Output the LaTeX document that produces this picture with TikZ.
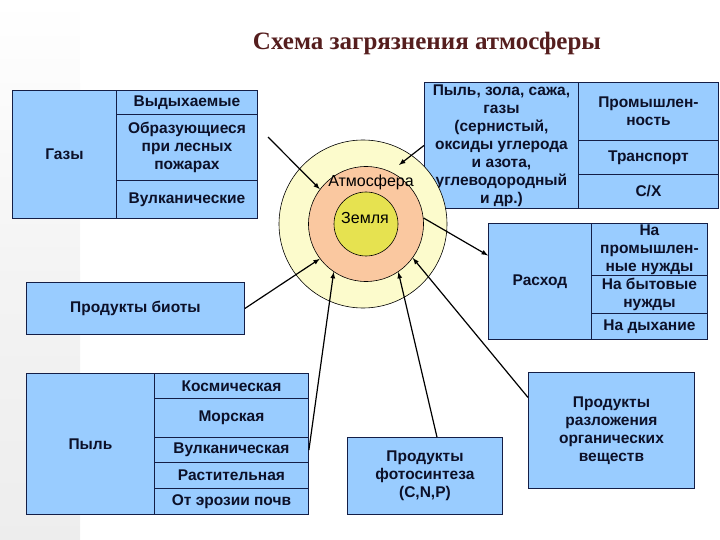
\documentclass[tikz,border=0pt]{standalone}
\usepackage{fontspec}
\setmainfont{Liberation Sans}
\newfontfamily\titlefont{Liberation Serif}
\usetikzlibrary{arrows}

\definecolor{cellblue}{RGB}{153,204,255}
\definecolor{cellline}{RGB}{20,30,70}
\definecolor{celltext}{RGB}{12,16,40}
\definecolor{aircol}{RGB}{252,251,204}
\definecolor{atmcol}{RGB}{250,200,160}
\definecolor{earthcol}{RGB}{230,226,80}
\definecolor{titlecol}{RGB}{85,30,30}

\tikzset{
  cell/.style={draw=cellline, line width=0.9pt, fill=cellblue, text=celltext,
    anchor=north west, inner sep=0pt, align=center,
    font=\bfseries\fontsize{15.5}{18}\selectfont},
  ring/.style={circle, draw, line width=0.6pt, inner sep=0pt},
  arr/.style={-latex, line width=1.2pt}
}

\begin{document}
\begin{tikzpicture}[x=1pt,y=-1pt]
\useasboundingbox (0,0) rectangle (720,540);
\shade[top color=white, bottom color=gray!14, middle color=gray!9] (0,0) rectangle (80,540);

\node[font=\titlefont\bfseries\fontsize{25}{30}\selectfont, text=titlecol] (title) at (427,43) {Схема загрязнения атмосферы};

% gases
\node[cell, minimum width=104, minimum height=128] (gas) at (12,90) {Газы};
\node[cell, minimum width=141, minimum height=24] (exhal) at (116,90) {Выдыхаемые};
\node[cell, minimum width=141, minimum height=66] (fire) at (116,114) {Образующиеся\\при лесных\\пожарах};
\node[cell, minimum width=141, minimum height=38] (volcgas) at (116,180) {Вулканические};

% sources of pollution
\node[cell, minimum width=154, minimum height=126] (pollut) at (424,82) {Пыль, зола, сажа,\\газы\\(сернистый,\\оксиды углерода\\и азота,\\углеводородный\\и др.)};
\node[cell, minimum width=140, minimum height=58] (industry) at (578,82) {Промышлен-\\ность};
\node[cell, minimum width=140, minimum height=34] (transport) at (578,140) {Транспорт};
\node[cell, minimum width=140, minimum height=34] (agro) at (578,174) {С/Х};

% consumption
\node[cell, minimum width=103, minimum height=116] (rashod) at (488,223) {Расход};
\node[cell, minimum width=116, minimum height=52] (indneed) at (591,223) {На\\промышлен-\\ные нужды};
\node[cell, minimum width=116, minimum height=38] (homeneed) at (591,275) {На бытовые\\нужды};
\node[cell, minimum width=116, minimum height=26] (breath) at (591,313) {На дыхание};

\node[cell, minimum width=218, minimum height=52] (biota) at (26,282) {Продукты биоты};

% dust
\node[cell, minimum width=128, minimum height=141] (dust) at (26,373) {Пыль};
\node[cell, minimum width=154, minimum height=25] (cosmic) at (154,373) {Космическая};
\node[cell, minimum width=154, minimum height=39] (sea) at (154,398) {Морская};
\node[cell, minimum width=154, minimum height=25] (vulk) at (154,437) {Вулканическая};
\node[cell, minimum width=154, minimum height=26] (plant) at (154,462) {Растительная};
\node[cell, minimum width=154, minimum height=26] (erosion) at (154,488) {От эрозии почв};

\node[cell, minimum width=155, minimum height=77] (photo) at (347,437) {Продукты\\фотосинтеза\\(C,N,P)};
\node[cell, minimum width=166, minimum height=116] (decomp) at (528,372) {Продукты\\разложения\\органических\\веществ};

% rings
\node[ring, fill=aircol, minimum size=168] (air) at (363,224) {};
\node[ring, fill=atmcol, minimum size=115] (atm) at (366,224) {};
\node[ring, fill=earthcol, minimum size=64] (earth) at (366,224) {};
\node[font=\fontsize{16}{18}\selectfont] (atmlabel) at (371,182) {Атмосфера};
\node[font=\fontsize{16}{18}\selectfont] (earthlabel) at (365,218) {Земля};

% arrows
\coordinate (gasend) at (268,137);
\coordinate (dusttip) at (399,165);
\draw[arr] (gasend) -- (atm.143);
\draw[arr] (pollut.west) -- (dusttip);
\draw[arr] (atm.6) -- ([yshift=26pt]rashod.west);
\draw[arr] (biota.east) -- (atm.217);
\draw[arr] (vulk.east) -- (atm.236);
\draw[arr] ([xshift=12pt]photo.north) -- (atm.304);
\draw[arr] ([yshift=33pt]decomp.west) -- (atm.324);
\end{tikzpicture}
\end{document}
